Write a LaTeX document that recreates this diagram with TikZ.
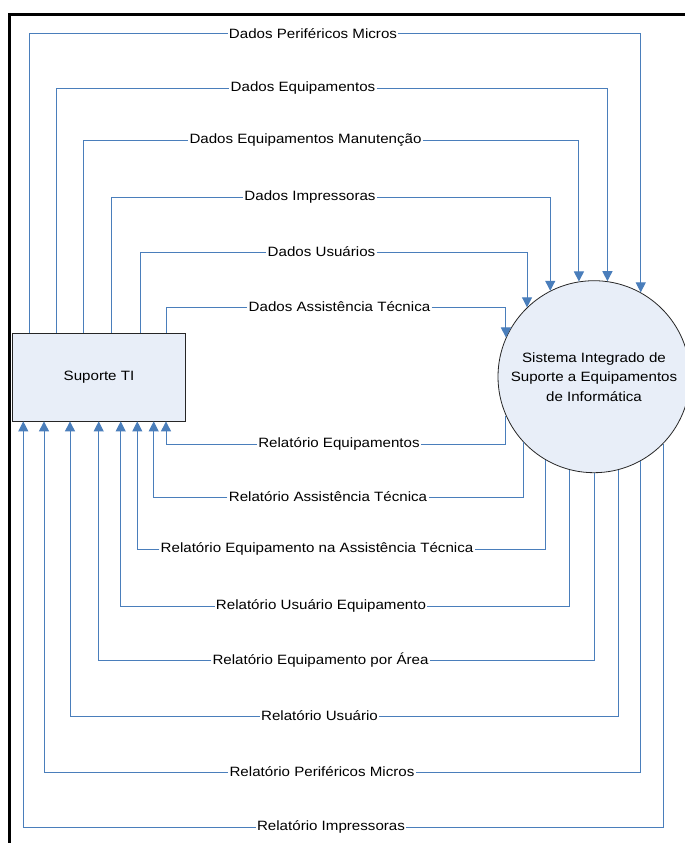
\documentclass[tikz,border=0pt]{standalone}
\usepackage{fontspec}
\setmainfont[FakeStretch=1.12]{Liberation Sans}
\usetikzlibrary{arrows.meta}
\definecolor{flowblue}{RGB}{74,126,187}
\definecolor{shapefill}{RGB}{232,238,248}
\tikzset{
  flow/.style={draw=flowblue, line width=1pt},
  flowarrow/.style={flow, -{Triangle[width=10pt,length=10pt]}},
  lbl/.style={inner sep=1.2pt, font=\fontsize{13.5}{15}\selectfont, text=black},
  shapebox/.style={draw=black!85, line width=0.8pt, fill=shapefill, font=\fontsize{13.5}{19.5}\selectfont}
}
\begin{document}
\begin{tikzpicture}[x=1pt,y=-1pt]
\useasboundingbox (0,0) rectangle (685,843);
% frame
\draw[line width=3pt] (9,845) -- (9,14.5) -- (687,14.5);

% main nodes
\node[shapebox, rectangle, minimum width=173.4pt, minimum height=88pt, inner sep=0pt] (st) at (99,377) {Suporte TI};
\node[shapebox, circle, minimum size=192pt, inner sep=0pt, align=center] (sis) at (594,376.7)
  {Sistema Integrado de\\Suporte a Equipamentos\\de Informática};

% label nodes
\node[lbl] (d1) at (313,34) {Dados Periféricos Micros};
\node[lbl] (d2) at (303,88.5) {Dados Equipamentos};
\node[lbl] (d3) at (305.5,140) {Dados Equipamentos Manutenção};
\node[lbl] (d4) at (310,197) {Dados Impressoras};
\node[lbl] (d5) at (321.5,252) {Dados Usuários};
\node[lbl] (d6) at (339.5,307) {Dados Assistência Técnica};

\node[lbl] (r1) at (339,444) {Relatório Equipamentos};
\node[lbl] (r2) at (328,497) {Relatório Assistência Técnica};
\node[lbl] (r3) at (317,549) {Relatório Equipamento na Assistência Técnica};
\node[lbl] (r4) at (321,606) {Relatório Usuário Equipamento};
\node[lbl] (r5) at (320.5,660) {Relatório Equipamento por Área};
\node[lbl] (r6) at (319.5,716) {Relatório Usuário};
\node[lbl] (r7) at (322,772) {Relatório Periféricos Micros};
\node[lbl] (r8) at (331,827) {Relatório Impressoras};

% x positions of the vertical legs at the box
\coordinate (xd1) at (29,0);
\coordinate (xd2) at (56.3,0);
\coordinate (xd3) at (83.7,0);
\coordinate (xd4) at (111,0);
\coordinate (xd5) at (140,0);
\coordinate (xd6) at (166,0);
\coordinate (xr1) at (166,0);
\coordinate (xr2) at (153.7,0);
\coordinate (xr3) at (137.3,0);
\coordinate (xr4) at (120.7,0);
\coordinate (xr5) at (98.7,0);
\coordinate (xr6) at (70,0);
\coordinate (xr7) at (44,0);
\coordinate (xr8) at (23.3,0);

% data flows: box -> system
\draw[flowarrow] (st.north -| xd1) |- (d1) -| (sis.61.4);
\draw[flowarrow] (st.north -| xd2) |- (d2) -| (sis.82.8);
\draw[flowarrow] (st.north -| xd3) |- (d3) -| (sis.99.6);
\draw[flowarrow] (st.north -| xd4) |- (d4) -| (sis.117.9);
\draw[flowarrow] (st.north -| xd5) |- (d5) -| (sis.134.3);
\draw[flowarrow] (st.north -| xd6) |- (d6) -| (sis.156.4);

% reports: system -> box
\draw[flowarrow] (sis.204.6) |- (r1) -| (st.south -| xr1);
\draw[flowarrow] (sis.223.2) |- (r2) -| (st.south -| xr2);
\draw[flowarrow] (sis.240) |- (r3) -| (st.south -| xr3);
\draw[flowarrow] (sis.255.7) |- (r4) -| (st.south -| xr4);
\draw[flowarrow] (sis.270.6) |- (r5) -| (st.south -| xr5);
\draw[flowarrow] (sis.285.3) |- (r6) -| (st.south -| xr6);
\draw[flowarrow] (sis.299.3) |- (r7) -| (st.south -| xr7);
\draw[flowarrow] (sis.316.2) |- (r8) -| (st.south -| xr8);
\end{tikzpicture}
\end{document}
